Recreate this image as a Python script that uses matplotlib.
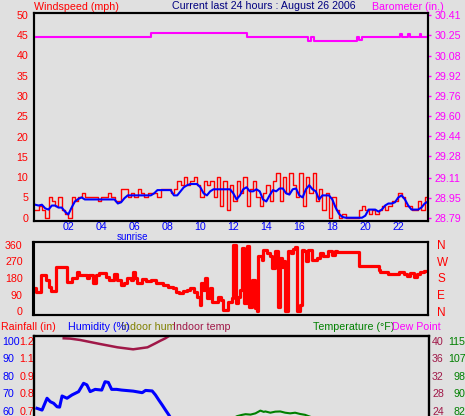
import numpy as np
import matplotlib
matplotlib.use('Agg')
import matplotlib.pyplot as plt
from matplotlib.transforms import blended_transform_factory

W, H = 465, 416
BG = '#E0E0E0'
RED = '#FF0000'
MAG = '#FF00FF'
BLUE = '#0000FF'
MAROON = '#A01848'
GREEN = '#008000'

plt.rcParams['font.family'] = ['Liberation Sans', 'DejaVu Sans']
plt.rcParams['font.size'] = 7.7

# ---- data -------------------------------------------------------------
hour_ticks = [2, 4, 6, 8, 10, 12, 14, 16, 18, 20, 22]
hour_labels = ['02', '04', '06', '08', '10', '12', '14', '16', '18', '20', '22']

# wind speed (mph), one value every 0.2 h starting at hour 0
wind_speed = [2, 3, 2, 0, 5, 4, 3, 5, 2, 1,
              0, 5, 4, 5, 6, 5, 5, 5, 5, 4,
              5, 5, 6, 5, 4, 4, 7, 7, 5, 6,
              5, 7, 6, 5, 6, 6, 6, 5, 7, 7,
              7, 6, 7, 9, 8, 10, 8, 9, 10, 8,
              5, 9, 8, 9, 5, 10, 3, 9, 2, 8,
              4, 9, 6, 10, 3, 7, 9, 5, 3, 6,
              8, 4, 9, 11, 4, 10, 6, 11, 8, 5,
              11, 3, 10, 6, 11, 4, 7, 2, 6, 0,
              5, 2, 0, 1, 0, 0, 0, 0, 2, 3,
              2, 1, 2, 1, 2, 3, 2, 3, 4, 4,
              6, 5, 3, 3, 2, 2, 4, 2, 5, 4]
wind_avg = [3.2, 3.0, 3.2, 2.3, 2.0, 3.0, 3.0, 2.5, 2.5, 1.5,
            0.8, 2.5, 4.0, 4.6, 5.0, 4.5, 4.5, 4.5, 4.5, 4.5,
            4.5, 4.5, 4.5, 4.5, 4.5, 3.5, 3.8, 4.8, 5.5, 5.5,
            5.5, 5.5, 5.5, 5.5, 5.5, 5.5, 6.0, 6.8, 6.8, 6.8,
            6.8, 6.8, 5.5, 5.5, 6.5, 7.5, 8.0, 8.3, 8.3, 8.3,
            7.5, 6.0, 5.5, 6.5, 7.0, 7.0, 7.0, 7.0, 7.0, 7.0,
            6.0, 4.5, 5.5, 7.0, 7.5, 6.5, 6.5, 7.0, 6.5, 4.5,
            4.0, 5.5, 6.8, 6.5, 7.2, 7.2, 6.0, 5.7, 7.0, 7.2,
            5.5, 5.0, 7.0, 8.0, 7.0, 6.5, 4.5, 5.5, 5.5, 5.5,
            4.5, 2.5, 1.0, 0.2, 0.0, 0.0, 0.0, 0.0, 0.0, 0.0,
            0.5, 2.0, 2.0, 2.0, 1.5, 2.0, 3.0, 3.5, 3.5, 3.8,
            5.0, 5.5, 4.5, 3.0, 2.0, 2.0, 2.0, 2.5, 3.5, 4.0]
wind_t = np.arange(len(wind_speed)) * 0.2
wind_ticks = [0, 5, 10, 15, 20, 25, 30, 35, 40, 45, 50]

baro_t = [0, 7.0, 12.8, 16.5, 16.7, 16.9, 19.5, 19.6, 19.8, 22.1, 22.2, 22.6, 22.7, 23.3, 23.4, 23.8]
baro_v = [30.235, 30.266, 30.235, 30.20, 30.235, 30.20, 30.235, 30.21, 30.235,
          30.255, 30.235, 30.255, 30.235, 30.255, 30.235, 30.235]
baro_ticks = [28.79, 28.95, 29.11, 29.28, 29.44, 29.60, 29.76, 29.92, 30.08, 30.25, 30.41]
baro_labels = ['28.79', '28.95', '29.11', '29.28', '29.44', '29.60',
               '29.76', '29.92', '30.08', '30.25', '30.41']

dir_t = [0.0, 0.1, 0.35, 0.7, 0.85, 0.95, 1.3, 1.95, 2.25, 2.55, 2.7, 3.15, 3.3, 3.5, 3.7,
         3.9, 4.3, 4.5, 4.8, 5.0, 5.2, 5.4, 5.6, 5.8, 5.95, 6.05, 6.2, 6.5, 6.75, 7.0,
         7.35, 7.75, 8.05, 8.35, 8.55, 8.75, 8.95, 9.2, 9.4, 9.6, 9.8,
         9.98, 10.04, 10.18, 10.3, 10.42, 10.59, 10.71, 11.09, 11.29, 11.39, 11.7, 11.9,
         12.0, 12.14, 12.3, 12.44, 12.53, 12.67, 12.81, 12.97, 13.11, 13.31, 13.41, 13.52,
         13.72, 13.82, 14.02, 14.22, 14.32, 14.53, 14.69, 14.83, 14.93, 15.03, 15.13, 15.33,
         15.47, 15.64, 15.74, 15.84, 16.04, 16.14, 16.28, 16.4, 16.55, 16.75, 17.05, 17.25,
         17.45, 17.76, 17.96, 18.16, 18.26, 19.58, 20.79, 20.89, 21.35, 22.0, 22.3, 22.5,
         22.67, 22.91, 23.11, 23.31, 23.52, 23.8]
dir_v = [124, 105, 196, 169, 133, 109, 238, 160, 182, 210, 196, 178, 196, 151, 196,
         205, 187, 169, 200, 169, 142, 151, 178, 169, 214, 178, 151, 174, 164, 169,
         151, 142, 133, 124, 105, 96, 109, 115, 127, 105, 78,
         33, 150, 115, 178, 70, 127, 51, 78, 60, 5, 51, 70,
         360, 42, 78, 115, 342, 42, 355, 24, 170, 15, 0, 300,
         278, 333, 316, 298, 236, 325, 24, 287, 242, 270, 0, 327,
         315, 340, 350, 0, 33, 332, 325, 270, 333, 278, 287, 316,
         298, 325, 305, 325, 320, 247, 225, 215, 202, 215, 202, 192,
         205, 187, 200, 210, 218, 218]
dir_ticks = [0, 90, 180, 270, 360]
dir_labels = ['0', '90', '180', '270', '360']
compass_labels = ['N', 'E', 'S', 'W', 'N']

hum_t = [0.08, 0.39, 0.69, 0.89, 1.09, 1.3, 1.45, 1.6, 1.9, 2.2, 2.6, 2.9, 3.1, 3.3, 3.6,
         4.0, 4.2, 4.4, 4.6, 4.9, 5.2, 5.9, 6.45, 6.65, 7.05, 7.25, 7.45, 7.66, 7.86, 8.06, 8.4]
hum_v = [61.3, 60.3, 67.1, 65.1, 64.2, 62.2, 62.0, 68.4, 67.1, 69.0, 70.9, 75.7, 74.8, 70.9, 72.2,
         71.8, 76.6, 76.2, 72.2, 72.2, 71.8, 71.2, 70.3, 71.6, 71.3, 69.0, 66.1, 63.2, 60.3, 57.5, 52.0]
hum_ticks = [100, 90, 80, 70, 60]
hum_labels = ['100', '90', '80', '70', '60']
rain_labels = ['1.2', '1.1', '0.9', '0.8', '0.7']
intemp_labels = ['40', '36', '32', '28', '24']
temp_labels = ['115', '107', '98', '90', '82']

intemp_t = [1.7, 2.1, 2.7, 3.9, 4.95, 5.9, 6.77, 7.25, 7.55, 7.85, 8.16]
intemp_v = [40.62, 40.55, 40.23, 39.31, 38.55, 38.09, 38.55, 39.47, 40.07, 40.62, 41.38]

temp_t = [11.6, 12.2, 12.5, 12.7, 13.0, 13.3, 13.6, 13.8, 13.9, 14.2, 14.5, 14.8, 15.1, 15.4,
          15.7, 16.0, 16.3, 16.5, 17.0]
temp_v = [77.0, 79.4, 80.0, 80.3, 80.1, 80.7, 82.0, 81.4, 81.6, 81.0, 81.5, 81.6, 81.0, 80.7,
          81.0, 80.4, 80.0, 79.4, 78.0]

# ---- figure -----------------------------------------------------------
fig = plt.figure(figsize=(W / 100, H / 100), dpi=100, facecolor=BG)


def box(x0, y0, x1, y1):
    # pixel box (top-left origin) -> figure fraction rect
    return [x0 / W, 1 - y1 / H, (x1 - x0) / W, (y1 - y0) / H]


def frame(ax):
    for s in ax.spines.values():
        s.set_color('black')
        s.set_linewidth(1.5)


XLIM = (-0.08, 23.8)

# panel 1 : wind speed + barometer
ax1 = fig.add_axes(box(34, 13, 428, 221), facecolor=BG)
ax1.step(wind_t, wind_speed, where='post', color=RED, lw=1.0)
ax1.plot(wind_t, wind_avg, color=BLUE, lw=1.5)
ax1.set_xlim(*XLIM)
w_lo, w_hi = -0.81, 50.42
ax1.set_ylim(w_lo, w_hi)
ax1.set_yticks(wind_ticks, [str(v) for v in wind_ticks])
ax1.tick_params(axis='y', length=0, pad=4, colors=RED, labelsize=7.7)
ax1.set_xticks(hour_ticks, hour_labels)
ax1.tick_params(axis='x', length=0, pad=1, colors=BLUE, labelsize=7.7)
frame(ax1)

ax1b = ax1.twinx()
ax1b.step(baro_t, baro_v, where='post', color=MAG, lw=1.5)
k = (30.41 - 28.79) / 50
ax1b.set_ylim(28.79 + w_lo * k, 28.79 + w_hi * k)
ax1b.set_yticks(baro_ticks, baro_labels)
ax1b.tick_params(axis='y', length=2.5, width=1, pad=2.2, colors=MAG, labelsize=7.7)
frame(ax1b)

trans = blended_transform_factory(ax1.transData, fig.transFigure)
fig.text(5.9, 1 - 237.5 / H, 'sunrise', transform=trans, color=BLUE,
         ha='center', va='center', fontsize=7.0)

# panel 2 : wind direction
ax2 = fig.add_axes(box(33.5, 242.3, 428.3, 315), facecolor=BG)
ax2.step(dir_t, dir_v, where='post', color=RED, lw=2.3)
ax2.set_xlim(*XLIM)
ax2.set_ylim(-21.8, 374.7)
ax2.set_xticks([])
ax2.set_yticks(dir_ticks, dir_labels)
ax2.tick_params(axis='y', length=1.8, width=1, pad=6, colors=RED, labelsize=7.7)
frame(ax2)
ax2b = ax2.twinx()
ax2b.set_ylim(-21.8, 374.7)
ax2b.set_yticks(dir_ticks, compass_labels)
ax2b.tick_params(axis='y', length=0, pad=6.3, colors=RED, labelsize=8.5)
frame(ax2b)

# panel 3 : humidity / indoor / temperature (cut off at bottom)
ax3 = fig.add_axes(box(34.3, 335.7, 429, 430), facecolor=BG)
h_lo, h_hi = 48.85, 103.05
ax3.set_xlim(*XLIM)
ax3.set_ylim(h_lo, h_hi)
ax3.set_xticks([])
ax3.plot(hum_t, hum_v, color=BLUE, lw=2.2)
ax3.set_yticks(hum_ticks, hum_labels)
ax3.tick_params(axis='y', length=0, pad=23.2, colors=BLUE, labelsize=7.7)
for lab in ax3.get_yticklabels():
    lab.set_ha('left')
frame(ax3)


def hum_to(v0, slope):
    return lambda h: v0 + (h - 100) * slope


rain_f = hum_to(1.2, 0.0125)
axr = ax3.twinx()
axr.yaxis.tick_left()
axr.set_ylim(rain_f(h_lo), rain_f(h_hi))
axr.set_yticks([rain_f(h) for h in hum_ticks], rain_labels)
axr.tick_params(axis='y', length=0, pad=10.6, colors=RED, labelsize=7.7)
for lab in axr.get_yticklabels():
    lab.set_ha('left')
frame(axr)

in_f = hum_to(40, 0.4)
axi = ax3.twinx()
axi.plot(intemp_t, intemp_v, color=MAROON, lw=1.8)
axi.set_ylim(in_f(h_lo), in_f(h_hi))
axi.set_yticks([in_f(h) for h in hum_ticks], intemp_labels)
axi.tick_params(axis='y', length=0, pad=2.2, colors=MAROON, labelsize=7.7)
frame(axi)

t_f = hum_to(115, 0.825)
axt = ax3.twinx()
axt.plot(temp_t, temp_v, color=GREEN, lw=1.5)
axt.set_ylim(t_f(h_lo), t_f(h_hi))
axt.set_yticks([t_f(h) for h in hum_ticks], temp_labels)
axt.tick_params(axis='y', length=0, pad=26.3, colors=GREEN, labelsize=7.7)
for lab in axt.get_yticklabels():
    lab.set_ha('right')
frame(axt)

# ---- headers ----------------------------------------------------------


def header(x, y, s, c):
    fig.text(x / W, 1 - y / H, s, color=c, ha='left', va='center', fontsize=7.7)


header(34, 6.5, 'Windspeed (mph)', RED)
header(172, 6.0, 'Current last 24 hours : August 26 2006', '#000080')
header(372, 6.5, 'Barometer (in.)', MAG)
header(0.5, 326.7, 'Rainfall (in)', RED)
header(121, 326.7, 'Indoor hum', '#808000')
header(68, 326.7, 'Humidity (%)', BLUE)
header(173, 326.7, 'Indoor temp', MAROON)
header(313, 326.7, 'Temperature (°F)', GREEN)
header(392, 326.7, 'Dew Point', MAG)

fig.savefig('out.png', dpi=100, facecolor=BG)
